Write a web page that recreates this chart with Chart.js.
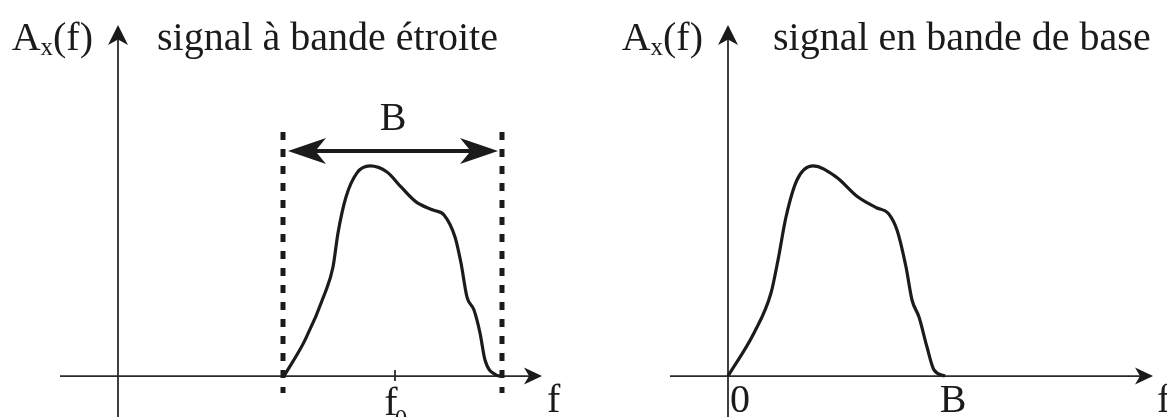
<!DOCTYPE html>
<html>
<head>
<meta charset="utf-8">
<script src="https://cdn.jsdelivr.net/npm/chart.js@4.4.1/dist/chart.umd.min.js"></script>
<style>
  body { margin: 0; background: #fff; }
  .wrap { display: flex; width: 1167px; height: 417px; }
  canvas { display: block; }
</style>
</head>
<body>
<div class="wrap">
  <canvas id="narrowChart" width="583" height="417"></canvas>
  <canvas id="baseChart" width="584" height="417"></canvas>
</div>
<script>
// frequency in arbitrary units (origin = vertical axis), amplitude normalised to the peak
const narrowF = [1.66, 1.87, 2.07, 2.15, 2.20, 2.28, 2.39, 2.52, 2.69, 2.83, 2.98, 3.15, 3.26, 3.37, 3.43, 3.49, 3.56, 3.62, 3.67, 3.78, 3.82];
const narrowA = [0, 0.171, 0.395, 0.519, 0.681, 0.852, 0.967, 1.0, 0.971, 0.900, 0.829, 0.790, 0.767, 0.662, 0.538, 0.376, 0.314, 0.205, 0.076, 0.005, 0];

const baseF = [0, 0.26, 0.43, 0.50, 0.58, 0.69, 0.85, 1.08, 1.30, 1.49, 1.60, 1.69, 1.78, 1.84, 1.91, 1.99, 2.06, 2.17];
const baseA = [0, 0.205, 0.395, 0.552, 0.757, 0.933, 1.0, 0.948, 0.852, 0.800, 0.776, 0.695, 0.519, 0.362, 0.281, 0.138, 0.029, 0];

const bandEdges = [1.65, 3.84];     // dashed limits of the narrow band
const bandArrow = [1.70, 3.80];     // double arrow "B"
const bandArrowLevel = 1.071;
const dashTop = 1.162;
const dashBottom = -0.081;

const titles = ['signal à bande étroite', 'signal en bande de base'];
const yName = ['A', 'x', '(f)'];
const xName = 'f';
const f0Pos = 2.77;
const baseTickLabels = ['0', 'B'];
const baseTickPos = [0.02, 2.25];

const serif = '"Liberation Serif", "Times New Roman", serif';
const ink = '#1b1b1b';

function pts(xs, ys) {
  return xs.map((x, i) => ({ x, y: ys[i] }));
}

function arrowHead(ctx, x, y, angle, L, W) {
  ctx.save();
  ctx.translate(x, y);
  ctx.rotate(angle);
  ctx.beginPath();
  ctx.moveTo(0, 0);
  ctx.lineTo(-L, -W);
  ctx.lineTo(-0.72 * L, 0);
  ctx.lineTo(-L, W);
  ctx.closePath();
  ctx.fill();
  ctx.restore();
}

// axes, arrows and labels drawn from the chart's own scales
const diagramPlugin = {
  id: 'diagram',
  beforeDatasetsDraw(chart, args, opts) {
    const { ctx, scales: { x, y } } = chart;
    const x0 = x.getPixelForValue(0), y0 = y.getPixelForValue(0);
    ctx.save();
    ctx.strokeStyle = '#2a2a2a';
    ctx.fillStyle = '#1a1a1a';
    ctx.lineWidth = 1.8;
    // horizontal axis
    const xs = x.getPixelForValue(opts.axisStart), xe = x.getPixelForValue(opts.axisEnd);
    ctx.beginPath(); ctx.moveTo(xs, y0); ctx.lineTo(xe - 8, y0); ctx.stroke();
    arrowHead(ctx, xe, y0, 0, 18, 8.5);
    // vertical axis
    const yt = y.getPixelForValue(opts.axisTop);
    ctx.beginPath(); ctx.moveTo(x0, chart.height); ctx.lineTo(x0, yt + 8); ctx.stroke();
    arrowHead(ctx, x0, yt, -Math.PI / 2, 20, 10);
    // tick f0
    if (opts.f0 !== null) {
      const fx = x.getPixelForValue(opts.f0);
      ctx.beginPath(); ctx.moveTo(fx, y0 - 6); ctx.lineTo(fx, y0 + 5); ctx.stroke();
    }
    ctx.restore();
  },
  afterDatasetsDraw(chart, args, opts) {
    const { ctx, scales: { x, y } } = chart;
    const x0 = x.getPixelForValue(0);
    const yTitle = y.getPixelForValue(1.552);
    ctx.save();
    ctx.fillStyle = ink;
    ctx.textBaseline = 'alphabetic';

    // A_x(f) label, right aligned to the left of the axis
    ctx.font = '40px ' + serif;
    const wA = ctx.measureText(yName[0]).width;
    const wP = ctx.measureText(yName[2]).width;
    ctx.font = '25px ' + serif;
    const wX = ctx.measureText(yName[1]).width;
    let lx = x0 - 25 - (wA + wX + wP);
    ctx.font = '40px ' + serif;
    ctx.fillText(yName[0], lx, yTitle);
    ctx.font = '25px ' + serif;
    ctx.fillText(yName[1], lx + wA, yTitle + 5);
    ctx.font = '40px ' + serif;
    ctx.fillText(yName[2], lx + wA + wX, yTitle);

    // title
    ctx.textAlign = 'left';
    ctx.fillText(opts.title, x.getPixelForValue(opts.titleAt), yTitle);

    // f at the end of the horizontal axis
    const yLow = y.getPixelForValue(-0.171);
    ctx.fillText(xName, x.getPixelForValue(4.29), yLow);

    // tick labels
    if (opts.f0 !== null) {
      const fx = x.getPixelForValue(opts.f0);
      ctx.textAlign = 'center';
      ctx.fillText('f', fx - 4, y.getPixelForValue(-0.185));
      ctx.font = '25px ' + serif;
      ctx.fillText('0', fx + 6, y.getPixelForValue(-0.185) + 12);
    }
    if (opts.tickLabels) {
      ctx.font = '40px ' + serif;
      ctx.textAlign = 'left';
      ctx.fillText(opts.tickLabels[0], x.getPixelForValue(opts.tickPos[0]), yLow);
      ctx.textAlign = 'center';
      ctx.fillText(opts.tickLabels[1], x.getPixelForValue(opts.tickPos[1]), yLow);
    }

    // double arrow B
    if (opts.arrow) {
      const ay = y.getPixelForValue(bandArrowLevel);
      arrowHead(ctx, x.getPixelForValue(bandArrow[0]), ay, Math.PI, 38, 13);
      arrowHead(ctx, x.getPixelForValue(bandArrow[1]), ay, 0, 38, 13);
      ctx.font = '40px ' + serif;
      ctx.textAlign = 'center';
      ctx.fillText('B', x.getPixelForValue((bandArrow[0] + bandArrow[1]) / 2), y.getPixelForValue(1.171));
    }
    ctx.restore();
  }
};

function makeChart(id, datasets, xMin, xMax, diagram) {
  return new Chart(document.getElementById(id), {
    type: 'line',
    data: { datasets },
    options: {
      responsive: false,
      animation: false,
      events: [],
      layout: { padding: 0 },
      scales: {
        x: { type: 'linear', min: xMin, max: xMax, display: false },
        y: { type: 'linear', min: -0.195, max: 1.79, display: false }
      },
      plugins: {
        legend: { display: false },
        tooltip: { enabled: false },
        diagram
      }
    },
    plugins: [diagramPlugin]
  });
}

function curve(xs, ys) {
  return {
    data: pts(xs, ys),
    borderColor: ink,
    borderWidth: 3.2,
    pointRadius: 0,
    cubicInterpolationMode: 'monotone',
    fill: false
  };
}

function dashed(f) {
  return {
    data: [{ x: f, y: dashTop }, { x: f, y: dashBottom }],
    borderColor: ink,
    borderWidth: 5,
    borderDash: [8, 9],
    borderCapStyle: 'butt',
    pointRadius: 0
  };
}

makeChart('narrowChart', [
  curve(narrowF, narrowA),
  dashed(bandEdges[0]),
  dashed(bandEdges[1]),
  {
    data: [{ x: bandArrow[0] + 0.2, y: bandArrowLevel }, { x: bandArrow[1] - 0.2, y: bandArrowLevel }],
    borderColor: ink,
    borderWidth: 4,
    pointRadius: 0
  }
], -1.18, 4.65, {
  title: titles[0], titleAt: 0.39, axisStart: -0.58, axisEnd: 4.24, axisTop: 1.671,
  f0: f0Pos, arrow: true, tickLabels: null, tickPos: null
});

makeChart('baseChart', [
  curve(baseF, baseA)
], -1.45, 4.39, {
  title: titles[1], titleAt: 0.45, axisStart: -0.58, axisEnd: 4.25, axisTop: 1.671,
  f0: null, arrow: false, tickLabels: baseTickLabels, tickPos: baseTickPos
});
</script>
</body>
</html>
